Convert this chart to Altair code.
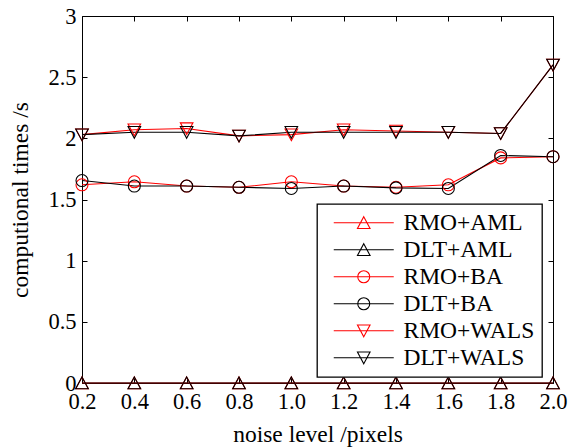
import altair as alt
import pandas as pd

# ---- data ----
noise = [0.2, 0.4, 0.6, 0.8, 1.0, 1.2, 1.4, 1.6, 1.8, 2.0]
series = ["RMO+AML", "DLT+AML", "RMO+BA", "DLT+BA", "RMO+WALS", "DLT+WALS"]
colors = ["#ff0000", "#000000", "#ff0000", "#000000", "#ff0000", "#000000"]

rmo_aml = [0.0, 0.0, 0.0, 0.0, 0.0, 0.0, 0.0, 0.0, 0.0, 0.0]
dlt_aml = [0.0, 0.0, 0.0, 0.0, 0.0, 0.0, 0.0, 0.0, 0.0, 0.0]
rmo_ba = [1.62, 1.645, 1.61, 1.60, 1.645, 1.61, 1.60, 1.62, 1.84, 1.85]
dlt_ba = [1.655, 1.61, 1.61, 1.60, 1.59, 1.61, 1.595, 1.59, 1.86, 1.85]
rmo_wals = [2.03, 2.07, 2.08, 2.02, 2.03, 2.07, 2.06, 2.05, 2.04, 2.60]
dlt_wals = [2.03, 2.05, 2.05, 2.02, 2.05, 2.05, 2.05, 2.05, 2.04, 2.60]

values = [rmo_aml, dlt_aml, rmo_ba, dlt_ba, rmo_wals, dlt_wals]

y_ticks = [0, 0.5, 1, 1.5, 2, 2.5, 3]

# marker paths (unit square -1..1)
TRI_UP = "M0,-1L1.05,0.95L-1.05,0.95Z"
CIRC = "M1,0A1,1,0,1,1,-1,0A1,1,0,1,1,1,0Z"
TRI_DN = "M0,1L1.05,-0.95L-1.05,-0.95Z"
marker_paths = [TRI_UP, TRI_UP, CIRC, CIRC, TRI_DN, TRI_DN]
LINE = "M-5,0H5"
legend_paths = [LINE + p for p in marker_paths]

rows = []
for name, vals in zip(series, values):
    for x, v in zip(noise, vals):
        rows.append({"noise": x, "time": v, "series": name})
df = pd.DataFrame(rows)

FONT = "Liberation Serif"

x_scale = alt.Scale(domain=[0.2, 2.0], nice=False, zero=False)
y_scale = alt.Scale(domain=[0, 3], nice=False, zero=False)
color_scale = alt.Scale(domain=series, range=colors)

base = alt.Chart(df)

lines = base.mark_line(strokeWidth=1.1).encode(
    x=alt.X("noise:Q", scale=x_scale,
            axis=alt.Axis(orient="bottom", values=noise, format=".1f",
                          title="noise level /pixels", titleY=58,
                          titleBaseline="alphabetic",
                          tickSize={"expr": "-5"}, labelPadding=12,
                          labelFlush=False, labelOverlap=False)),
    y=alt.Y("time:Q", scale=y_scale,
            axis=alt.Axis(orient="left", values=y_ticks, format="~g",
                          title="computional times /s", titleAngle=270,
                          titleX=-55, titleY=183.5, titleAlign="center",
                          titleBaseline="alphabetic",
                          tickSize={"expr": "-5"}, labelPadding=11,
                          labelFlush=False, labelOverlap=False)),
    color=alt.Color("series:N", scale=color_scale, legend=None),
    order=alt.Order("noise:Q"),
)

points = base.mark_point(filled=False, size=144, strokeWidth=1.1, opacity=1).encode(
    x=alt.X("noise:Q", scale=x_scale,
            axis=alt.Axis(orient="top", values=noise, labels=False, title=None,
                          tickSize={"expr": "-5"})),
    y=alt.Y("time:Q", scale=y_scale,
            axis=alt.Axis(orient="right", values=y_ticks, labels=False, title=None,
                          tickSize={"expr": "-5"})),
    color=alt.Color("series:N", scale=color_scale, legend=None),
    shape=alt.Shape("series:N", scale=alt.Scale(domain=series, range=marker_paths),
                    legend=None),
)

leg = alt.Legend(title=None, orient="none", legendX=235, legendY=188,
                 symbolOpacity=1, symbolSize=144, symbolStrokeWidth=1.1,
                 symbolOffset=28, labelOffset=28, rowPadding=2, padding=7,
                 labelLimit=0)

legend_layer = base.mark_point(filled=False, size=144, strokeWidth=1.1, opacity=0).encode(
    x=alt.X("noise:Q", scale=x_scale, axis=None),
    y=alt.Y("time:Q", scale=y_scale, axis=None),
    color=alt.Color("series:N", scale=color_scale, legend=leg),
    shape=alt.Shape("series:N", scale=alt.Scale(domain=series, range=legend_paths),
                    legend=leg),
)

chart = alt.layer(lines, points, legend_layer).resolve_scale(
    shape="independent", color="independent"
).resolve_axis(
    x="independent", y="independent"
).properties(
    width=471, height=367,
    autosize=alt.AutoSizeParams(type="none"),
    padding={"left": 82, "top": 16, "right": 24, "bottom": 65},
    background="white",
).configure_view(
    stroke="black", strokeWidth=1
).configure_axis(
    grid=False, domain=False, ticks=True, tickColor="black", tickWidth=1,
    labelFont=FONT, labelFontSize=22.5, labelColor="black",
    titleFont=FONT, titleFontSize=23.5, titleFontWeight="normal", titleColor="black",
).configure_legend(
    labelFont=FONT, labelFontSize=23.5, labelColor="black",
    strokeColor="black", fillColor="white", cornerRadius=0, strokeWidth=1.3,
)

chart.save("out.html", embed_options={"renderer": "svg", "actions": False})
